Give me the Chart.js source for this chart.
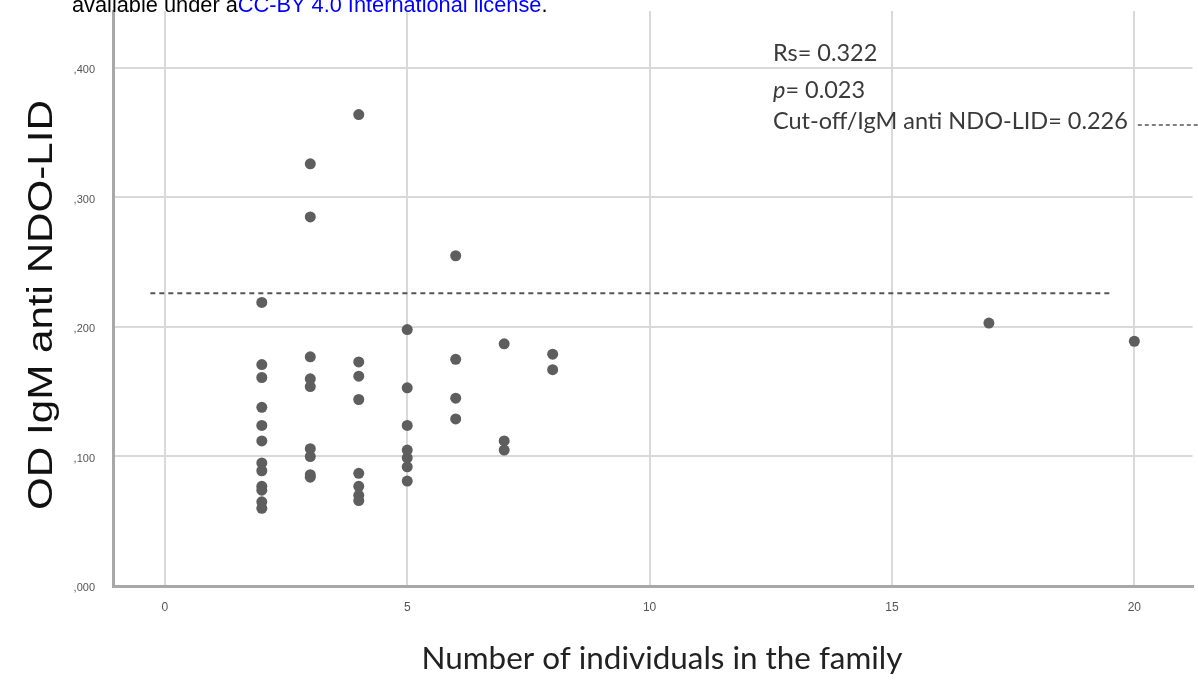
<!DOCTYPE html>
<html>
<head>
<meta charset="utf-8">
<script src="https://cdn.jsdelivr.net/npm/chart.js@4.4.1/dist/chart.umd.min.js"></script>
<style>
  html, body { margin: 0; padding: 0; background: #fff; }
  #wrap { width: 1198px; height: 684px; position: relative; }
</style>
</head>
<body>
<div id="wrap"><canvas id="c"></canvas></div>
<script>
// Family size (x) and OD of IgM anti NDO-LID (y), grouped by family size
const familySizes = [2, 3, 4, 5, 6, 7, 8, 17, 20];
const odSize2  = [0.219, 0.171, 0.161, 0.138, 0.124, 0.112, 0.095, 0.089, 0.077, 0.074, 0.065, 0.060];
const odSize3  = [0.326, 0.285, 0.177, 0.160, 0.154, 0.106, 0.100, 0.086, 0.084];
const odSize4  = [0.364, 0.173, 0.162, 0.144, 0.087, 0.077, 0.070, 0.066];
const odSize5  = [0.198, 0.153, 0.124, 0.105, 0.099, 0.092, 0.081];
const odSize6  = [0.255, 0.175, 0.145, 0.129];
const odSize7  = [0.187, 0.112, 0.105];
const odSize8  = [0.179, 0.167];
const odSize17 = [0.203];
const odSize20 = [0.189];
const odGroups = [odSize2, odSize3, odSize4, odSize5, odSize6, odSize7, odSize8, odSize17, odSize20];

// Cut-off for IgM anti NDO-LID and its drawn extent along the family-size axis
const cutoff = 0.226;
const cutoffFrom = -0.3;
const cutoffTo = 19.5;

// Spearman statistics
const rsText = '0.322';
const pText = '0.023';

// Axis ticks
const xTicks = [0, 5, 10, 15, 20];
const yTicks = [0, 0.1, 0.2, 0.3, 0.4];

const points = [];
familySizes.forEach((n, i) => odGroups[i].forEach(v => points.push({ x: n, y: v })));

function fitSize(ctx, text, family, weight, targetW) {
  ctx.font = weight + ' 100px ' + family;
  return 100 * targetW / ctx.measureText(text).width;
}

const textPlugin = {
  id: 'chartTexts',
  afterDraw(chart) {
    const ctx = chart.ctx;
    ctx.save();
    ctx.textBaseline = 'alphabetic';
    ctx.textAlign = 'left';

    // Licence line at the top
    const head = [['available under a', '#000000'], ['CC-BY 4.0 International license', '#0000ff'], ['.', '#000000']];
    const headFull = head.map(h => h[0]).join('');
    const hs = fitSize(ctx, headFull, '"Liberation Sans", Arial, sans-serif', '', 476);
    ctx.font = hs + 'px "Liberation Sans", Arial, sans-serif';
    let hx = 72;
    head.forEach(([t, c]) => { ctx.fillStyle = c; ctx.fillText(t, hx, 12); hx += ctx.measureText(t).width; });

    // Statistics block
    const fam = 'Lato, "Open Sans", sans-serif';
    const cutLine = 'Cut-off/IgM anti NDO-LID= ' + cutoff.toFixed(3);
    const as = fitSize(ctx, cutLine, fam, '', 355);
    ctx.fillStyle = '#3a3a3a';
    ctx.font = as + 'px ' + fam;
    ctx.fillText('Rs= ' + rsText, 773, 61);
    ctx.font = 'italic ' + as + 'px ' + fam;
    ctx.fillText('p', 773, 98);
    const pw = ctx.measureText('p').width;
    ctx.font = as + 'px ' + fam;
    ctx.fillText('= ' + pText, 773 + pw, 98);
    ctx.fillText(cutLine, 773, 129);
    const cw = ctx.measureText(cutLine).width;
    ctx.strokeStyle = '#555555';
    ctx.lineWidth = 1.5;
    ctx.setLineDash([4, 3]);
    ctx.beginPath();
    ctx.moveTo(773 + cw + 10, 125);
    ctx.lineTo(1198, 125);
    ctx.stroke();
    ctx.setLineDash([]);

    // X axis title
    const xTitle = 'Number of individuals in the family';
    const xs = fitSize(ctx, xTitle, fam, '', 481);
    ctx.font = xs + 'px ' + fam;
    ctx.fillStyle = '#222222';
    ctx.textAlign = 'center';
    ctx.fillText(xTitle, 662, 669);

    // Y axis title
    const yTitle = 'OD IgM anti NDO-LID';
    const yfam = '"Liberation Sans", Arial, sans-serif';
    const ys = fitSize(ctx, yTitle, yfam, '', 410);
    ctx.font = ys + 'px ' + yfam;
    ctx.translate(42, 305);
    ctx.rotate(-Math.PI / 2);
    ctx.scale(1, 0.85);
    ctx.textBaseline = 'middle';
    ctx.fillStyle = '#111111';
    ctx.fillText(yTitle, 0, 0);
    ctx.restore();
  }
};

const gridColor = '#d9d9d9';
const axisColor = '#a8a8a8';
const tickFont = { family: '"Liberation Sans", Arial, sans-serif', size: 12 };

new Chart(document.getElementById('c'), {
  type: 'scatter',
  data: {
    datasets: [
      {
        data: points,
        backgroundColor: '#5e5e5e',
        borderColor: '#5e5e5e',
        borderWidth: 0,
        pointRadius: 5.5,
        pointHoverRadius: 5.5,
        order: 1
      },
      {
        type: 'line',
        data: [{ x: cutoffFrom, y: cutoff }, { x: cutoffTo, y: cutoff }],
        borderColor: '#555555',
        borderWidth: 2,
        borderDash: [5, 4],
        pointRadius: 0,
        fill: false,
        order: 2
      }
    ]
  },
  options: {
    responsive: true,
    maintainAspectRatio: false,
    animation: false,
    events: [],
    layout: { padding: { top: 11, right: 5, left: 0, bottom: 0 } },
    plugins: { legend: { display: false }, tooltip: { enabled: false } },
    scales: {
      x: {
        type: 'linear',
        min: -1.07,
        max: 21.2,
        afterBuildTicks: s => { s.ticks = xTicks.map(v => ({ value: v })); },
        afterFit: s => { s.height = 98; s.paddingLeft = 0; s.paddingRight = 0; },
        ticks: { callback: v => String(v), color: '#555555', font: tickFont, padding: 14, maxRotation: 0, autoSkip: false },
        grid: { color: gridColor, lineWidth: 2, drawTicks: false },
        border: { color: axisColor, width: 3 }
      },
      y: {
        type: 'linear',
        min: 0,
        max: 0.444,
        afterBuildTicks: s => { s.ticks = yTicks.map(v => ({ value: v })); },
        afterFit: s => { s.width = 113; s.paddingTop = 0; s.paddingBottom = 0; },
        ticks: {
          callback: v => ',' + Number(v).toFixed(3).split('.')[1],
          color: '#555555', font: { family: '"Liberation Sans", Arial, sans-serif', size: 11 },
          padding: 18, labelOffset: 2, autoSkip: false
        },
        grid: { color: gridColor, lineWidth: 2, drawTicks: false },
        border: { color: axisColor, width: 3 }
      }
    }
  },
  plugins: [textPlugin]
});
</script>
</body>
</html>
